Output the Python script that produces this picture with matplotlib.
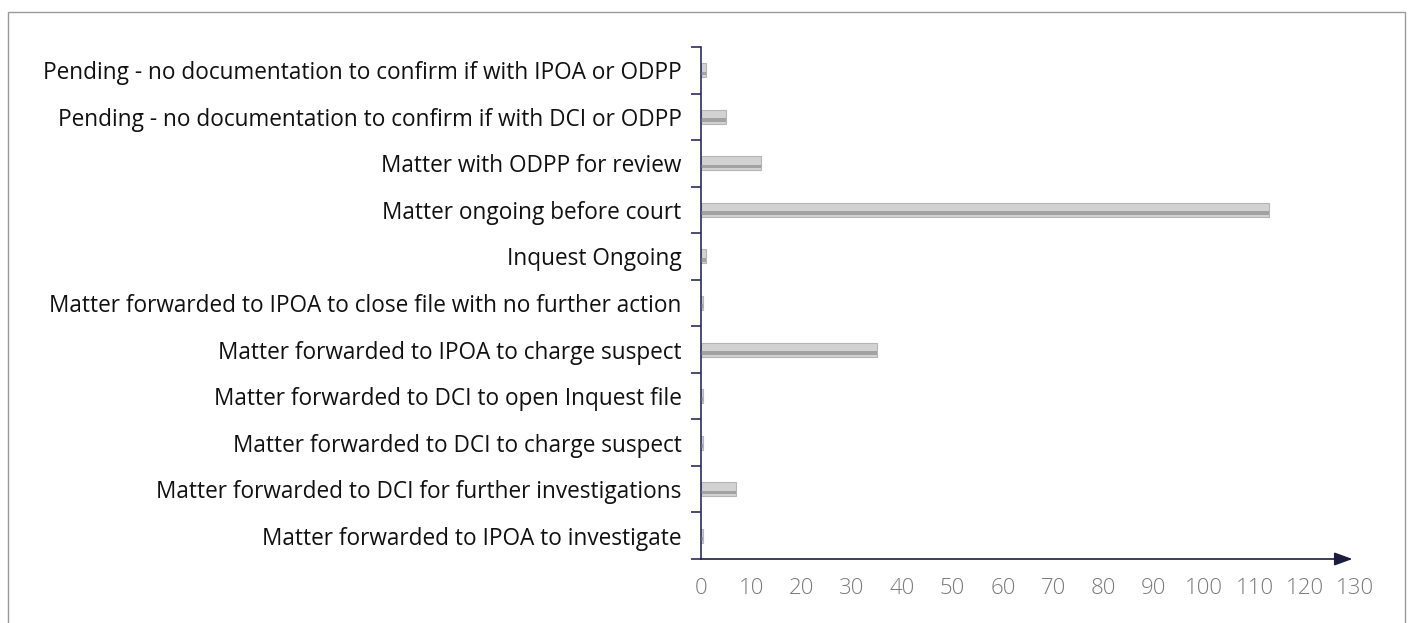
import numpy as np
import matplotlib.pyplot as plt
from matplotlib.patches import Rectangle

categories = [
    "Pending - no documentation to confirm if with IPOA or ODPP",
    "Pending - no documentation to confirm if with DCI or ODPP",
    "Matter with ODPP for review",
    "Matter ongoing before court",
    "Inquest Ongoing",
    "Matter forwarded to IPOA to close file with no further action",
    "Matter forwarded to IPOA to charge suspect",
    "Matter forwarded to DCI to open Inquest file",
    "Matter forwarded to DCI to charge suspect",
    "Matter forwarded to DCI for further investigations",
    "Matter forwarded to IPOA to investigate",
]
values = [1, 5, 12, 113, 1, 0.4, 35, 0.4, 0.4, 7, 0.4]
x_ticks = list(range(0, 131, 10))

axis_col = "#2b2d5e"
fig = plt.figure(figsize=(14.11, 6.23), dpi=100)
fig.patches.append(Rectangle((8 / 1411, -0.05), 1397 / 1411, 1.05 - 12 / 623,
                             transform=fig.transFigure, fill=False,
                             edgecolor="#9a9a9a", linewidth=1.0))

ax = fig.add_axes([701 / 1411, 1 - 559 / 623, 654 / 1411, 512 / 623])
y = np.arange(len(categories))
ax.barh(y, values, height=0.3, color="#d2d2d2", edgecolor="#b5b5b5", linewidth=0.8, zorder=2)
# darker lower rim to mimic the cylinder shading
ax.barh(y + 0.07, values, height=0.08, color="#7c7c7c", linewidth=0, alpha=0.55, zorder=3)

ax.set_ylim(len(categories) - 0.5, -0.5)
ax.set_xlim(0, 130)
ax.set_yticks(y)
ax.set_yticklabels(categories, fontsize=16.3, family="Open Sans", color="#111111")
ax.set_yticks(np.arange(-0.5, len(categories), 1.0), minor=True)
ax.tick_params(axis="y", which="major", length=0, pad=14)
ax.tick_params(axis="y", which="minor", length=7, width=1.2, color=axis_col)
ax.set_xticks(x_ticks)
ax.set_xticklabels([str(t) for t in x_ticks], fontsize=16, family="Open Sans",
                   fontweight="light", color="#7a7a7a")
ax.tick_params(axis="x", length=0, pad=14)

for s in ["top", "right", "bottom"]:
    ax.spines[s].set_visible(False)
ax.spines["left"].set_color(axis_col)
ax.spines["left"].set_linewidth(1.2)

ax.annotate("", xy=(129.5, len(categories) - 0.5), xytext=(0, len(categories) - 0.5),
            xycoords="data", annotation_clip=False,
            arrowprops=dict(arrowstyle="-|>,head_length=1.1,head_width=0.4",
                            color="#1a1c40", lw=1.2, shrinkA=0, shrinkB=0))

fig.savefig("out.png", dpi=100)
